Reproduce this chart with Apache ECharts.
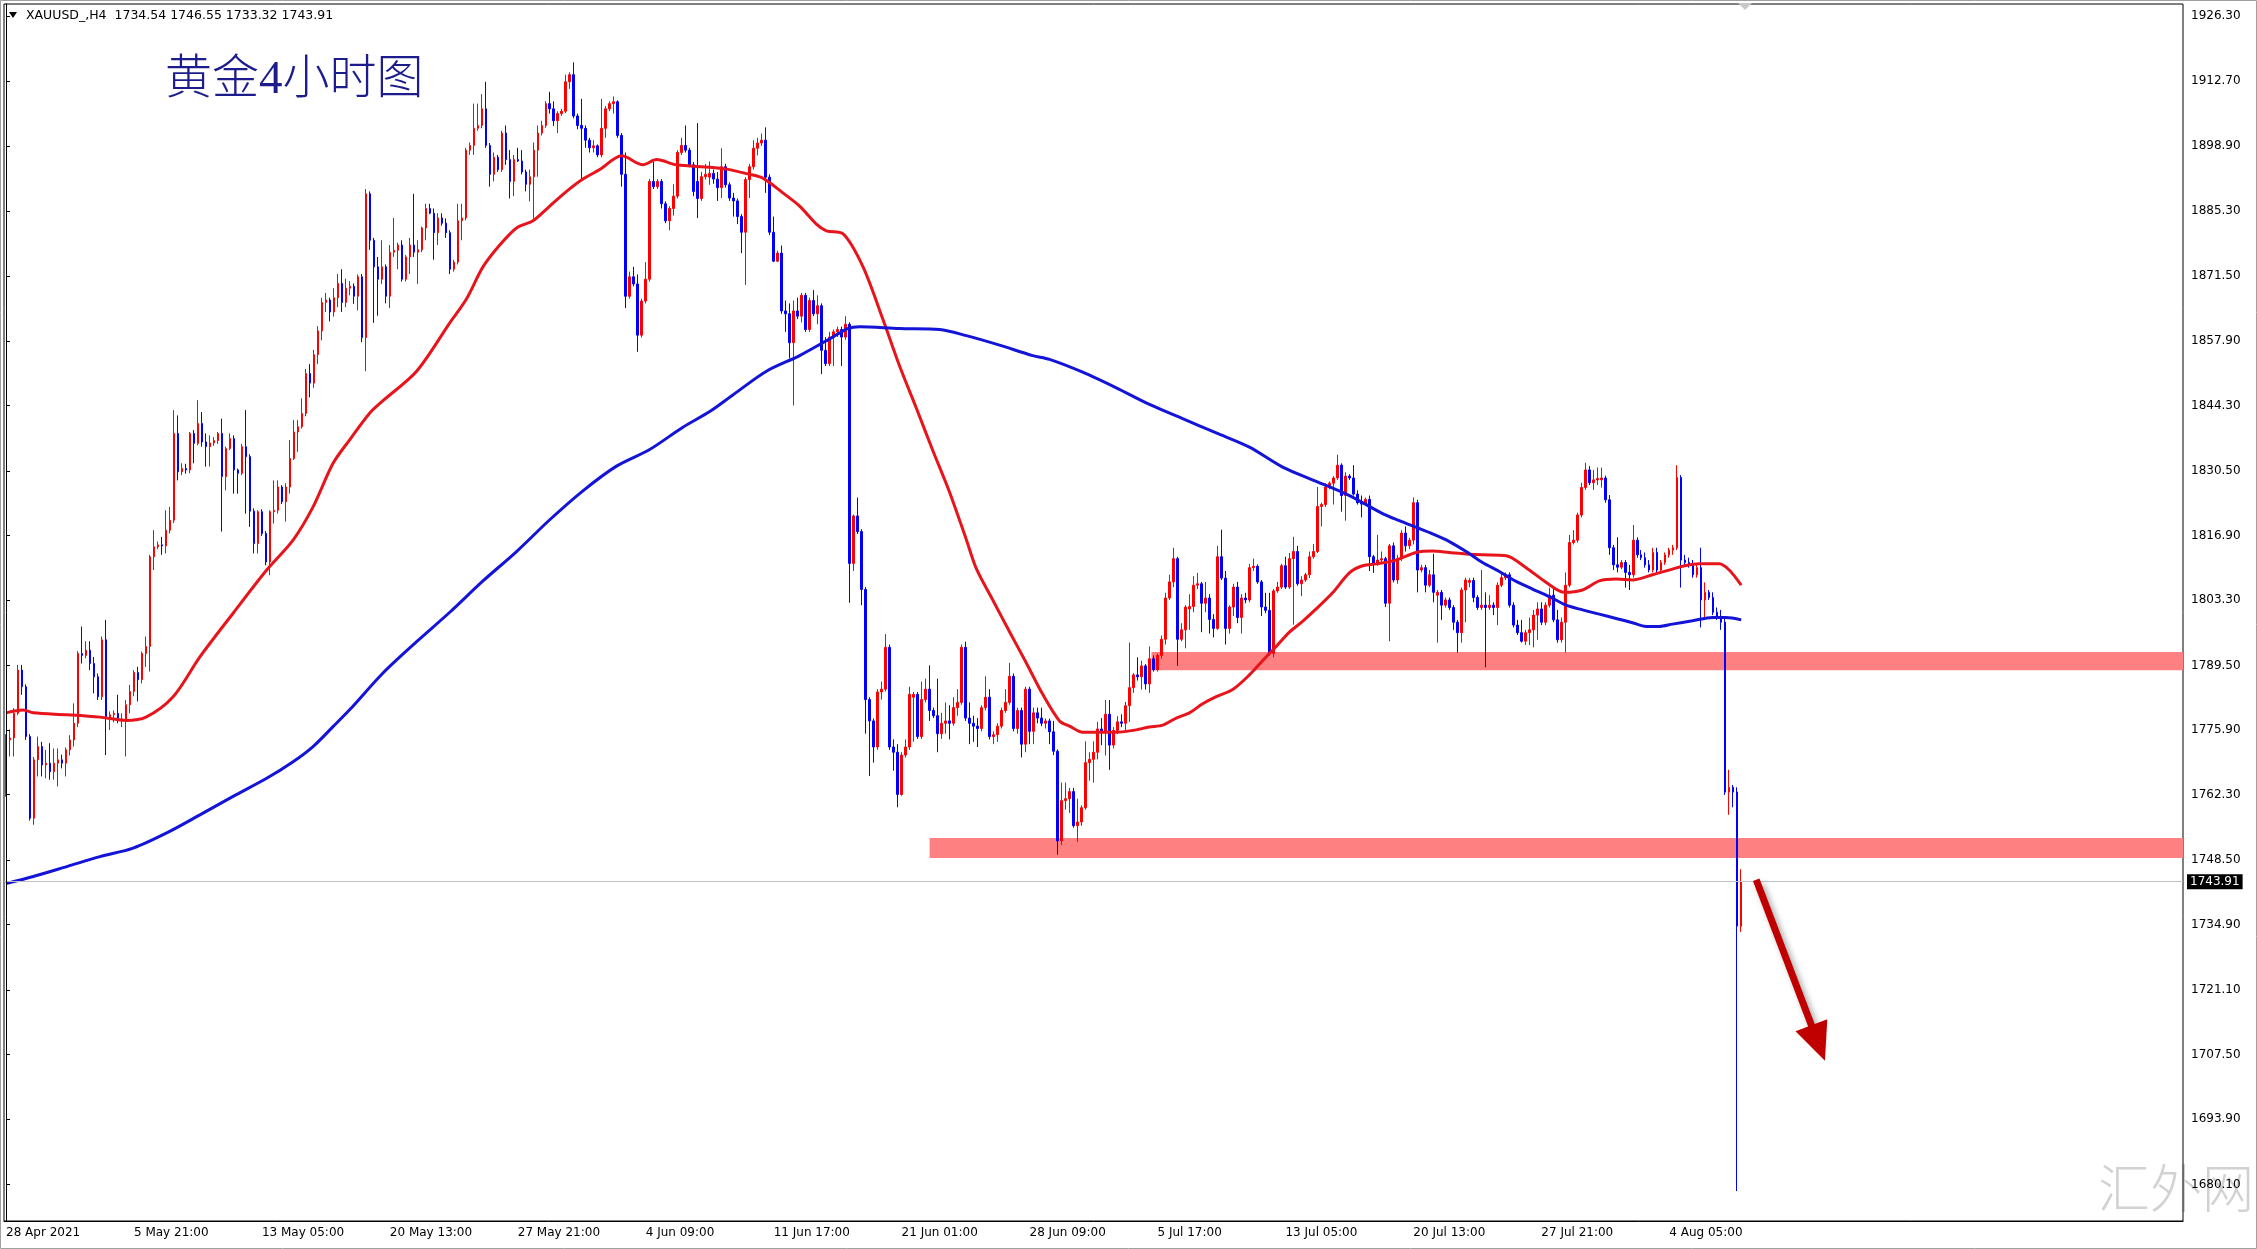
<!DOCTYPE html>
<html>
<head>
<meta charset="utf-8">
<script src="https://cdn.jsdelivr.net/npm/echarts/dist/echarts.min.js"></script>
<style>
  html, body { margin: 0; padding: 0; background: #fff; }
  #chart { width: 2257px; height: 1249px; }
</style>
</head>
<body>
<div id="chart"></div>
<script>
// XAUUSD H4, one row per bar: [open, high, low, close]
const candles = [
  [1762.5,1775.0,1761.8,1773.8],[1773.8,1776.0,1770.3,1774.2],[1774.2,1780.5,1770.3,1779.4],[1779.4,1789.6,1779.0,1788.5],[1788.5,1789.6,1783.3,1785.0],
  [1785.0,1785.5,1773.8,1774.5],[1774.5,1775.0,1756.8,1757.3],[1757.3,1770.2,1755.9,1769.6],[1769.6,1774.5,1766.1,1772.4],[1772.4,1773.4,1766.1,1768.5],
  [1768.5,1771.7,1765.7,1768.9],[1768.9,1773.1,1765.4,1767.1],[1767.1,1772.0,1765.4,1768.9],[1768.9,1772.0,1764.0,1769.6],[1769.6,1770.7,1767.8,1768.9],
  [1768.9,1772.2,1766.1,1771.7],[1771.7,1774.8,1770.5,1773.8],[1773.8,1781.5,1772.4,1777.3],[1777.3,1792.5,1776.5,1792.0],[1792.0,1797.7,1789.9,1791.6],
  [1791.6,1794.6,1791.0,1792.7],[1792.7,1794.6,1788.5,1789.9],[1789.9,1791.3,1783.6,1787.1],[1787.1,1787.8,1782.2,1782.9],[1782.9,1795.6,1782.2,1794.9],
  [1794.9,1799.1,1770.6,1778.7],[1778.7,1779.8,1775.9,1779.1],[1779.1,1780.0,1777.5,1779.4],[1779.4,1783.3,1777.3,1778.0],[1778.0,1779.4,1776.5,1778.2],
  [1778.2,1782.2,1770.3,1781.2],[1781.2,1785.4,1779.4,1784.0],[1784.0,1788.5,1783.0,1788.0],[1788.0,1789.2,1781.9,1786.5],[1786.5,1792.4,1785.7,1792.0],
  [1792.0,1795.6,1789.2,1793.5],[1793.5,1812.8,1788.2,1812.4],[1812.4,1818.0,1809.6,1814.5],[1814.5,1815.6,1814.0,1814.9],[1814.9,1816.6,1812.8,1814.7],
  [1814.7,1822.2,1813.1,1818.0],[1818.0,1822.9,1817.3,1820.1],[1820.1,1843.3,1819.5,1838.4],[1838.4,1842.2,1828.5,1830.3],[1830.3,1832.1,1829.6,1831.0],
  [1831.0,1832.0,1829.9,1830.7],[1830.7,1838.7,1830.0,1838.4],[1838.4,1839.1,1832.1,1836.3],[1836.3,1845.4,1835.9,1840.5],[1840.5,1842.9,1835.6,1836.6],
  [1836.6,1838.4,1831.4,1835.6],[1835.6,1838.0,1831.4,1836.4],[1836.4,1837.6,1835.8,1836.9],[1836.9,1838.7,1836.2,1838.4],[1838.4,1841.5,1817.7,1829.3],
  [1829.3,1835.6,1826.4,1835.2],[1835.2,1838.4,1834.9,1837.3],[1837.3,1838.0,1825.7,1830.7],[1830.7,1831.0,1825.7,1830.0],[1830.0,1836.2,1829.6,1835.6],
  [1835.6,1843.3,1821.5,1833.5],[1833.5,1834.0,1818.7,1822.0],[1822.0,1822.6,1813.1,1815.2],[1815.2,1822.2,1813.1,1821.9],[1821.9,1822.4,1816.8,1817.3],
  [1817.3,1817.8,1810.6,1811.3],[1811.3,1822.2,1808.5,1821.9],[1821.9,1828.5,1819.4,1822.2],[1822.2,1828.5,1821.5,1827.1],[1827.1,1827.5,1823.5,1824.0],
  [1824.0,1827.9,1819.8,1827.1],[1827.1,1837.0,1825.7,1833.1],[1833.1,1841.2,1832.8,1838.7],[1838.7,1841.2,1834.5,1839.8],[1839.8,1845.8,1839.4,1842.6],
  [1842.6,1852.0,1842.0,1851.0],[1851.0,1853.0,1846.0,1849.0],[1849.0,1856.0,1848.0,1855.0],[1855.0,1861.0,1853.0,1860.0],[1860.0,1867.0,1858.0,1866.0],
  [1866.0,1868.0,1864.0,1866.5],[1866.5,1867.0,1862.0,1864.0],[1864.0,1869.0,1863.0,1867.0],[1867.0,1872.0,1865.0,1870.0],[1870.0,1873.0,1864.0,1866.0],
  [1866.0,1871.0,1865.0,1869.0],[1869.0,1870.5,1867.5,1869.4],[1869.4,1870.0,1865.7,1867.3],[1867.3,1871.9,1864.3,1871.4],[1871.4,1872.0,1857.6,1858.6],
  [1858.6,1889.9,1851.5,1888.9],[1888.9,1889.4,1877.1,1879.1],[1879.1,1879.6,1861.7,1873.5],[1873.5,1875.6,1863.2,1870.9],[1870.9,1879.1,1869.9,1873.5],
  [1873.5,1874.0,1865.8,1867.3],[1867.3,1878.1,1864.8,1876.6],[1876.6,1883.8,1875.6,1877.0],[1877.0,1878.6,1873.0,1878.1],[1878.1,1879.1,1870.4,1870.9],
  [1870.9,1876.0,1870.4,1875.6],[1875.6,1879.6,1872.0,1878.1],[1878.1,1888.9,1875.6,1876.6],[1876.6,1879.1,1869.9,1877.1],[1877.1,1882.0,1876.6,1881.7],
  [1881.7,1886.8,1879.1,1885.8],[1885.8,1886.8,1884.6,1884.8],[1884.8,1885.8,1875.0,1880.7],[1880.7,1884.8,1878.1,1883.8],[1883.8,1884.8,1882.2,1882.7],
  [1882.7,1883.7,1879.6,1880.7],[1880.7,1881.2,1872.0,1873.0],[1873.0,1875.0,1872.5,1874.5],[1874.5,1886.8,1874.0,1883.2],[1883.2,1886.8,1879.1,1883.8],
  [1883.8,1898.6,1883.3,1898.1],[1898.1,1899.7,1897.1,1899.1],[1899.1,1907.9,1897.1,1902.7],[1902.7,1907.9,1902.2,1903.3],[1903.3,1909.9,1902.7,1906.8],
  [1906.8,1912.5,1898.6,1899.1],[1899.1,1899.6,1890.4,1893.0],[1893.0,1897.6,1891.5,1896.6],[1896.6,1897.1,1893.5,1894.0],[1894.0,1902.2,1893.5,1901.7],
  [1901.7,1903.3,1895.0,1896.1],[1896.1,1898.1,1887.9,1891.5],[1891.5,1897.1,1888.4,1896.1],[1896.1,1898.6,1895.6,1895.8],[1895.8,1898.1,1893.0,1893.5],
  [1893.5,1894.0,1889.4,1890.9],[1890.9,1894.0,1887.3,1892.5],[1892.5,1899.7,1883.2,1898.1],[1898.1,1903.3,1892.5,1901.7],[1901.7,1904.3,1901.2,1903.3],
  [1903.3,1908.4,1902.8,1907.9],[1907.9,1910.4,1905.8,1906.8],[1906.8,1908.4,1903.2,1904.3],[1904.3,1906.3,1901.7,1905.8],[1905.8,1906.8,1905.3,1906.3],
  [1906.3,1914.0,1905.9,1912.5],[1912.5,1914.5,1911.0,1914.0],[1914.0,1916.6,1904.8,1905.3],[1905.3,1905.8,1902.5,1903.3],[1903.3,1908.9,1892.0,1902.7],
  [1902.7,1903.3,1898.6,1900.2],[1900.2,1900.7,1897.6,1898.6],[1898.6,1900.2,1897.6,1899.0],[1899.0,1899.3,1896.6,1897.1],[1897.1,1908.9,1896.6,1902.7],
  [1902.7,1907.4,1900.7,1906.8],[1906.8,1908.4,1906.3,1907.9],[1907.9,1909.4,1905.8,1908.3],[1908.3,1908.6,1900.7,1901.2],[1901.2,1901.7,1890.4,1893.0],
  [1893.0,1897.6,1864.8,1867.3],[1867.3,1872.5,1866.8,1871.4],[1871.4,1873.5,1869.4,1869.9],[1869.9,1871.9,1855.6,1859.1],[1859.1,1866.8,1858.6,1866.3],
  [1866.3,1874.5,1865.8,1870.9],[1870.9,1892.0,1870.4,1891.5],[1891.5,1895.6,1889.9,1890.4],[1890.4,1892.0,1889.9,1891.5],[1891.5,1892.0,1885.8,1886.8],
  [1886.8,1887.3,1882.7,1883.2],[1883.2,1886.3,1881.2,1885.8],[1885.8,1890.9,1884.3,1888.4],[1888.4,1898.1,1887.9,1897.6],[1897.6,1900.7,1897.1,1899.1],
  [1899.1,1903.3,1897.6,1898.1],[1898.1,1898.6,1894.5,1895.0],[1895.0,1895.6,1888.4,1889.4],[1891.5,1903.8,1883.8,1887.9],[1887.9,1893.5,1887.4,1892.5],
  [1892.5,1895.2,1891.9,1893.0],[1892.4,1895.7,1890.8,1893.2],[1893.2,1894.0,1891.0,1892.0],[1892.0,1893.5,1887.4,1890.2],[1890.2,1898.5,1888.0,1894.6],
  [1894.6,1895.2,1890.2,1890.8],[1890.8,1891.3,1887.4,1888.0],[1888.0,1889.1,1884.1,1887.4],[1887.4,1887.9,1882.5,1884.1],[1884.1,1884.6,1876.4,1880.8],
  [1880.8,1892.4,1869.7,1891.9],[1891.9,1895.2,1888.0,1894.6],[1894.6,1900.2,1894.0,1898.5],[1898.5,1900.7,1897.0,1899.6],[1899.6,1901.6,1899.0,1900.2],
  [1900.2,1902.9,1889.1,1892.4],[1892.4,1893.0,1880.2,1880.8],[1880.8,1884.1,1874.5,1874.7],[1874.7,1876.9,1874.5,1876.4],[1876.4,1878.0,1863.6,1864.2],
  [1864.2,1866.4,1859.8,1863.6],[1863.6,1865.8,1854.2,1857.5],[1857.5,1866.4,1844.3,1864.2],[1864.2,1867.0,1862.5,1863.1],[1863.1,1868.0,1861.8,1867.5],
  [1867.5,1868.0,1859.8,1860.3],[1860.3,1867.0,1859.8,1866.4],[1866.4,1868.6,1863.1,1863.6],[1863.6,1867.5,1861.4,1865.3],[1865.3,1865.8,1850.9,1855.9],
  [1855.9,1858.7,1852.6,1853.1],[1853.1,1859.8,1852.6,1858.7],[1858.7,1860.3,1852.6,1859.8],[1859.8,1860.9,1858.7,1860.3],[1860.3,1860.9,1852.6,1858.7],
  [1858.7,1863.1,1858.1,1861.4],[1861.4,1861.8,1802.7,1811.0],[1811.0,1821.3,1809.4,1821.0],[1821.0,1824.9,1817.2,1817.7],[1817.7,1818.2,1802.2,1805.5],
  [1805.5,1806.0,1775.1,1782.3],[1782.3,1782.8,1766.2,1777.8],[1777.8,1778.3,1769.0,1772.3],[1772.3,1784.5,1771.7,1783.9],[1783.9,1786.1,1782.3,1784.5],
  [1784.5,1796.1,1784.0,1793.3],[1793.3,1793.9,1771.7,1772.3],[1772.3,1773.9,1767.3,1771.2],[1771.2,1772.9,1759.6,1762.3],[1762.3,1771.2,1762.0,1770.6],
  [1770.6,1773.9,1770.1,1772.3],[1772.3,1785.0,1771.7,1783.4],[1782.8,1783.9,1773.4,1783.4],[1783.4,1783.9,1774.0,1774.5],[1774.5,1786.1,1774.0,1782.3],
  [1782.3,1786.7,1781.7,1784.5],[1784.5,1789.5,1777.8,1780.0],[1780.0,1780.6,1778.4,1778.9],[1778.9,1786.7,1771.2,1775.1],[1775.1,1779.5,1774.0,1777.3],
  [1777.3,1781.7,1775.1,1777.8],[1777.8,1781.1,1773.9,1777.3],[1777.3,1782.8,1776.8,1780.6],[1780.6,1784.5,1778.9,1781.7],[1781.7,1793.9,1781.2,1793.3],
  [1793.3,1794.5,1777.8,1778.4],[1778.4,1781.7,1772.9,1777.3],[1777.3,1778.9,1773.4,1776.7],[1776.7,1778.4,1772.3,1776.2],[1776.2,1781.1,1775.6,1780.6],
  [1780.6,1787.2,1780.0,1782.8],[1782.8,1784.5,1773.9,1774.5],[1774.5,1775.6,1772.9,1774.9],[1774.9,1777.3,1773.4,1776.7],[1776.7,1780.6,1776.2,1780.0],
  [1780.0,1784.5,1779.5,1781.7],[1781.7,1790.0,1781.2,1787.2],[1787.2,1787.8,1775.6,1776.2],[1776.2,1780.6,1775.1,1780.0],[1780.0,1780.6,1770.1,1772.9],
  [1772.9,1785.0,1771.2,1784.5],[1784.5,1785.0,1772.9,1775.6],[1775.6,1780.6,1772.9,1779.5],[1779.5,1780.6,1777.3,1778.4],[1778.4,1780.6,1776.7,1777.3],
  [1777.3,1778.3,1776.2,1777.8],[1777.8,1778.3,1772.9,1775.5],[1775.5,1777.8,1770.6,1771.4],[1771.4,1771.8,1749.6,1752.5],[1752.5,1764.8,1751.6,1761.0],
  [1761.0,1764.8,1759.1,1761.4],[1761.4,1763.7,1758.4,1762.9],[1762.9,1763.7,1755.3,1755.7],[1755.7,1761.4,1752.3,1756.5],[1756.5,1760.0,1755.7,1759.5],
  [1759.5,1773.5,1759.1,1769.0],[1769.0,1771.2,1765.2,1769.7],[1769.7,1773.5,1764.8,1771.2],[1771.2,1777.6,1769.7,1776.1],[1776.1,1778.4,1772.7,1775.4],
  [1775.4,1782.2,1770.5,1779.2],[1779.2,1782.2,1767.5,1772.7],[1772.7,1776.5,1772.0,1775.8],[1775.8,1778.8,1775.0,1777.6],[1777.6,1779.2,1776.5,1777.3],
  [1777.3,1781.8,1775.8,1781.0],[1781.0,1794.3,1777.6,1784.8],[1784.8,1787.9,1783.7,1787.5],[1787.5,1791.2,1786.3,1787.1],[1787.1,1790.5,1784.4,1789.4],
  [1789.4,1789.8,1784.4,1785.6],[1785.6,1793.5,1783.7,1790.9],[1790.9,1791.6,1788.2,1788.6],[1788.6,1792.0,1788.2,1791.6],[1791.6,1795.8,1790.9,1795.0],
  [1795.0,1804.8,1793.9,1803.7],[1803.7,1808.6,1803.3,1807.1],[1807.1,1814.3,1806.0,1812.0],[1812.0,1812.4,1789.4,1795.0],[1795.0,1798.4,1794.6,1797.0],
  [1797.0,1802.2,1793.1,1801.8],[1801.4,1804.5,1797.0,1801.9],[1801.9,1808.3,1800.7,1806.4],[1806.4,1809.0,1805.6,1806.7],[1806.7,1807.1,1796.5,1802.6],
  [1802.6,1807.1,1800.7,1803.7],[1803.7,1804.5,1796.2,1799.2],[1799.2,1800.3,1795.4,1797.3],[1797.3,1814.7,1797.0,1812.4],[1812.4,1818.1,1807.5,1807.9],
  [1807.9,1809.4,1793.9,1797.3],[1797.3,1802.2,1796.2,1801.8],[1801.8,1806.7,1799.9,1806.0],[1806.0,1807.1,1798.4,1799.6],[1799.6,1804.5,1796.2,1803.7],
  [1803.7,1804.8,1802.6,1803.3],[1803.3,1810.9,1802.8,1810.1],[1810.1,1812.0,1809.4,1810.4],[1810.4,1810.8,1806.7,1807.1],[1807.1,1807.5,1799.9,1801.8],
  [1801.8,1804.8,1800.5,1801.1],[1801.1,1804.8,1791.6,1792.0],[1792.0,1805.6,1791.2,1805.2],[1805.2,1807.1,1804.8,1806.0],[1806.0,1810.9,1805.6,1810.5],
  [1810.5,1812.4,1805.6,1806.0],[1806.0,1813.2,1805.6,1812.0],[1812.0,1816.6,1798.1,1813.5],[1813.5,1814.7,1806.3,1806.7],[1806.7,1808.3,1804.1,1807.5],
  [1807.5,1809.0,1807.1,1808.6],[1808.6,1813.5,1807.9,1812.4],[1812.4,1815.1,1812.0,1813.5],[1813.5,1827.1,1813.2,1823.0],[1823.0,1823.8,1818.8,1823.4],
  [1823.4,1827.9,1822.9,1827.1],[1827.1,1828.3,1826.6,1827.9],[1827.9,1829.4,1823.4,1829.0],[1829.0,1833.9,1828.6,1831.7],[1831.7,1832.1,1821.9,1825.3],
  [1825.3,1830.2,1820.0,1829.4],[1829.4,1829.8,1828.6,1829.0],[1829.0,1831.7,1825.3,1825.6],[1825.6,1826.4,1823.4,1823.8],[1823.8,1825.3,1820.7,1823.5],
  [1823.5,1824.9,1823.4,1824.5],[1824.5,1825.3,1809.4,1812.4],[1812.4,1812.8,1809.0,1810.9],[1810.9,1817.0,1810.5,1811.7],[1811.7,1813.5,1811.3,1812.0],
  [1812.0,1812.4,1801.8,1802.6],[1802.6,1815.1,1794.6,1814.7],[1814.7,1815.4,1807.0,1807.5],[1807.5,1812.8,1806.7,1812.0],[1812.0,1818.0,1811.5,1817.4],
  [1817.4,1818.8,1813.5,1814.7],[1814.7,1816.4,1814.0,1815.9],[1815.9,1824.9,1815.0,1823.8],[1823.8,1824.4,1804.9,1809.6],[1809.6,1810.7,1809.1,1810.1],
  [1810.1,1810.7,1804.9,1806.4],[1806.4,1809.6,1806.0,1808.6],[1808.6,1813.0,1802.8,1804.9],[1804.3,1805.4,1794.3,1804.9],[1804.9,1805.4,1799.1,1802.2],
  [1802.2,1803.8,1801.7,1803.3],[1803.3,1803.8,1801.2,1801.7],[1801.7,1802.2,1797.0,1798.6],[1798.6,1799.1,1792.2,1796.4],[1796.4,1805.9,1794.3,1805.4],
  [1805.4,1808.0,1798.6,1807.5],[1807.0,1807.9,1806.0,1807.4],[1807.4,1808.0,1802.8,1803.8],[1803.8,1804.3,1801.2,1801.7],[1801.7,1809.6,1801.2,1802.2],
  [1802.2,1804.9,1789.1,1801.7],[1801.7,1804.3,1801.2,1802.2],[1802.2,1802.8,1800.1,1801.7],[1801.7,1807.0,1798.0,1806.4],[1806.4,1809.1,1806.0,1808.0],
  [1808.0,1809.1,1807.5,1808.6],[1808.6,1809.1,1801.7,1802.2],[1802.2,1802.8,1797.5,1798.0],[1798.0,1799.1,1795.9,1796.4],[1796.4,1799.1,1794.3,1794.6],
  [1794.6,1797.0,1793.8,1796.4],[1796.4,1799.6,1793.8,1797.0],[1797.0,1801.2,1793.3,1800.1],[1800.1,1802.8,1794.9,1801.4],[1801.4,1802.8,1798.0,1798.6],
  [1798.6,1802.8,1798.0,1802.2],[1802.2,1805.9,1801.7,1804.3],[1804.3,1805.9,1798.6,1799.1],[1799.1,1801.2,1794.3,1794.9],[1794.9,1799.6,1794.3,1798.6],
  [1798.6,1809.1,1792.2,1806.4],[1806.4,1817.0,1806.0,1815.4],[1815.4,1818.0,1815.0,1815.9],[1815.9,1821.7,1815.4,1821.2],[1821.2,1828.0,1820.7,1827.0],
  [1827.0,1832.2,1826.5,1830.7],[1830.7,1831.5,1827.5,1828.0],[1828.0,1830.7,1826.5,1828.6],[1828.6,1831.2,1827.5,1828.9],[1828.6,1831.2,1827.0,1829.0],
  [1829.0,1829.5,1823.8,1824.4],[1824.4,1825.4,1812.8,1814.3],[1814.3,1814.9,1809.6,1810.7],[1810.7,1816.5,1809.1,1810.2],[1810.2,1811.7,1809.8,1811.2],
  [1811.2,1811.7,1805.9,1809.1],[1809.1,1810.7,1805.4,1808.6],[1808.6,1819.1,1808.0,1815.9],[1815.9,1816.5,1812.2,1812.8],[1812.8,1813.8,1811.7,1812.2],
  [1812.2,1813.3,1810.1,1810.7],[1810.7,1811.7,1809.1,1809.6],[1809.6,1814.3,1809.1,1813.3],[1813.3,1814.3,1809.1,1809.6],[1809.6,1811.7,1809.1,1811.2],
  [1811.2,1813.3,1810.7,1812.8],[1812.8,1814.3,1812.2,1813.8],[1813.8,1814.9,1812.8,1814.3],[1814.3,1831.7,1813.8,1829.1],[1829.1,1829.6,1805.9,1811.7],
  [1811.7,1812.8,1810.7,1811.2],[1811.2,1812.2,1810.1,1810.7],[1810.7,1811.7,1808.0,1808.6],[1808.6,1810.7,1808.0,1810.1],[1810.1,1814.3,1797.5,1803.3],
  [1803.3,1807.0,1799.6,1804.9],[1804.9,1805.4,1803.3,1803.8],[1803.8,1804.9,1800.1,1800.7],[1800.7,1801.7,1799.1,1799.6],[1799.6,1801.2,1797.0,1798.6],
  [1798.6,1799.6,1762.2,1762.8],[1762.8,1767.5,1758.0,1763.8],[1763.8,1764.3,1759.6,1762.8],[1762.8,1763.8,1678.7,1734.54],[1734.54,1746.55,1733.32,1743.91]
];

// red moving average as [bar, price]
const maRed = [
  [0,1779.5],[4.3,1780.1],[6.8,1779.5],[15.2,1779.1],[23.5,1778.6],[30,1777.9],[35,1778.6],[41.8,1782.9],
  [48.5,1791.3],[56.8,1800.5],[65.2,1809.6],[71.8,1815.9],[76.8,1822.9],[81.8,1832.1],[86,1837.1],[91,1842.7],
  [94.3,1845.3],[102.7,1851.5],[111,1861.7],[115.2,1866.8],[119.3,1873.5],[123.5,1878.1],[127.7,1881.7],[131.8,1883.2],
  [136,1886.3],[140.2,1889.4],[144.3,1892.0],[148.5,1894.0],[154,1896.9],[159.3,1895.0],[162.7,1896.1],[167.7,1895.0],
  [176,1894.5],[180.2,1894.1],[186,1893.0],[189.3,1892.2],[194.3,1889.1],[198.5,1886.3],[202.7,1882.5],[205.2,1881.1],
  [209.3,1880.5],[214.3,1873.6],[219.3,1862.5],[223.5,1852.6],[227.7,1843.7],[231.8,1834.8],[236,1826.0],[240.2,1816.0],
  [242.7,1809.9],[246.8,1803.3],[251,1796.6],[255.2,1790.0],[259.3,1783.4],[263.5,1777.8],[266,1776.7],[269.3,1775.4],
  [273.5,1775.4],[277.7,1775.4],[281.8,1775.8],[286,1776.5],[289.3,1776.9],[292.7,1778.4],[296,1779.5],[299.3,1781.4],
  [302.7,1782.9],[306.8,1784.4],[311,1787.5],[314.3,1790.5],[317.7,1793.5],[321,1796.5],[324.3,1798.8],[327.7,1801.4],
  [331.8,1804.8],[336,1809.0],[339.3,1810.5],[342.7,1810.9],[347.7,1811.7],[352.7,1813.3],[356.8,1813.6],[361,1813.3],
  [365.2,1813.0],[369.3,1812.8],[375.2,1812.6],[380.2,1810.1],[385.2,1807.0],[389.8,1804.9],[394.3,1805.4],[398.5,1807.3],
  [402.7,1807.7],[406.8,1807.5],[411.8,1808.6],[416.8,1809.8],[419.3,1810.4],[423.5,1810.9],[428.5,1810.9],[431,1809.6],
  [434,1806.4]
];

// blue moving average
const maBlue = [
  [0,1743.5],[6.8,1745.0],[15.2,1747.1],[23.5,1749.2],[31.8,1751.0],[40.2,1754.2],[48.5,1758.0],[56.8,1761.9],
  [65.2,1765.7],[71.8,1769.2],[76.8,1772.4],[81.8,1776.6],[86,1780.2],[94.3,1787.9],[102.7,1794.5],[111,1800.7],
  [119.3,1807.3],[127.7,1813.5],[136,1820.2],[144.3,1826.3],[152.7,1831.5],[161,1835.0],[169.3,1839.7],[176,1843.0],
  [181.8,1846.5],[190.2,1851.5],[198.5,1854.8],[206.8,1858.7],[210.5,1860.5],[213.5,1860.9],[223.5,1860.5],[233.5,1860.3],
  [240.2,1859.0],[248.5,1857.0],[256.8,1854.8],[261,1854.0],[269.3,1851.3],[277.7,1848.0],[286,1844.5],[294.3,1841.5],
  [302.7,1838.5],[311,1835.5],[319.3,1831.3],[327.7,1828.3],[336,1825.3],[344.3,1821.5],[348.5,1820.0],[352.7,1818.6],
  [356.8,1817.2],[361,1815.6],[365.2,1813.5],[369.3,1811.2],[373.5,1809.3],[377.7,1807.2],[381.8,1805.6],[386,1804.0],
  [390.2,1802.2],[394.3,1801.2],[398.5,1800.3],[402.7,1799.4],[406.8,1798.5],[410.2,1797.7],[413.5,1797.7],[416.8,1798.2],
  [421.8,1798.9],[426.8,1799.6],[430.2,1799.6],[434,1799.1]
];

const xTickLabels = ['28 Apr 2021', '5 May 21:00', '13 May 05:00', '20 May 13:00', '27 May 21:00', '4 Jun 09:00',
  '11 Jun 17:00', '21 Jun 01:00', '28 Jun 09:00', '5 Jul 17:00', '13 Jul 05:00', '20 Jul 13:00', '27 Jul 21:00', '4 Aug 05:00'];
const barsPerLabel = 32;
const yTickValues = [1680.1, 1693.9, 1707.5, 1721.1, 1734.9, 1748.5, 1762.3, 1775.9, 1789.5, 1803.3,
  1816.9, 1830.5, 1844.3, 1857.9, 1871.5, 1885.3, 1898.9, 1912.7, 1926.3];

// support zones: [first bar, low, high]
const zones = [[231, 1748.9, 1753.1], [286.5, 1788.5, 1792.3]];
// drawn arrow: from [bar, price] to [bar, price]
const arrowFrom = [437.75, 1744.3];
const arrowTo = [453.25, 1709.9];

const slotCount = 545;
const yMin = 1672.4, yMax = 1928.9;
const font = 'DejaVu Sans';

const cats = [];
for (let i = 0; i < slotCount; i++) cats.push(String(i));
const showTick = (idx) => idx % barsPerLabel === 0 && idx / barsPerLabel < xTickLabels.length;

const last = candles[candles.length - 1];
const lastPrice = last[3];

let chart = echarts.init(document.getElementById('chart'), null, { renderer: 'canvas' });

chart.setOption({
  animation: false,
  backgroundColor: '#fff',
  grid: { left: 4, right: 74, top: 4, bottom: 28, show: true, borderColor: '#000', borderWidth: 1 },
  xAxis: [
    {
      type: 'category',
      data: cats,
      boundaryGap: true,
      axisLine: { lineStyle: { color: '#000', width: 1 } },
      axisTick: { alignWithLabel: true, interval: showTick, length: 4, lineStyle: { color: '#000' } },
      axisLabel: {
        interval: showTick,
        align: 'left',
        margin: 6,
        color: '#000',
        fontSize: 12,
        fontFamily: font,
        formatter: (v, idx) => xTickLabels[idx / barsPerLabel] || ''
      },
      splitLine: { show: false }
    },
    { type: 'value', min: -0.5, max: slotCount - 0.5, show: false }
  ],
  yAxis: {
    type: 'value',
    position: 'right',
    min: yMin,
    max: yMax,
    z: 5,
    axisLine: { show: true, lineStyle: { color: '#000' } },
    axisTick: { show: true, customValues: yTickValues, length: 4, lineStyle: { color: '#000' } },
    axisLabel: {
      customValues: yTickValues,
      formatter: (v) => v.toFixed(2),
      color: '#000',
      fontSize: 12,
      fontFamily: font,
      margin: 8
    },
    splitLine: { show: false }
  },
  series: [
    {
      // pink zones behind the bars
      type: 'line',
      xAxisIndex: 1,
      data: [],
      z: 1,
      silent: true,
      markArea: {
        silent: true,
        itemStyle: { color: '#ff8080' },
        data: zones.map(z => [{ xAxis: z[0], yAxis: z[2] }, { xAxis: slotCount - 0.5, yAxis: z[1] }])
      }
    },
    {
      type: 'candlestick',
      xAxisIndex: 0,
      z: 3,
      barWidth: 2,
      data: candles.map(c => [c[0], c[3], c[2], c[1]]),
      itemStyle: {
        color: '#ff0000',
        color0: '#0000ff',
        borderColor: '#ff0000',
        borderColor0: '#0000ff',
        borderWidth: 1
      },
      markLine: {
        silent: true,
        symbol: 'none',
        lineStyle: { color: '#c0c0c0', width: 1, type: 'solid' },
        label: {
          position: 'end',
          distance: 4,
          formatter: lastPrice.toFixed(2),
          backgroundColor: '#000',
          color: '#fff',
          fontSize: 12,
          fontFamily: font,
          padding: [2, 3, 1, 3]
        },
        data: [{ yAxis: lastPrice }]
      }
    },
    {
      type: 'line',
      xAxisIndex: 1,
      data: maRed,
      smooth: 0.3,
      showSymbol: false,
      z: 4,
      lineStyle: { color: '#e8141c', width: 3 }
    },
    {
      type: 'line',
      xAxisIndex: 1,
      data: maBlue,
      smooth: 0.3,
      showSymbol: false,
      z: 4,
      lineStyle: { color: '#1414d8', width: 3 }
    },
    {
      // hand drawn arrow
      type: 'line',
      xAxisIndex: 1,
      data: [],
      z: 6,
      markLine: {
        silent: true,
        symbol: ['none', 'triangle'],
        symbolSize: [34, 38],
        label: { show: false },
        lineStyle: {
          color: '#c00000',
          width: 7,
          type: 'solid',
          shadowColor: 'rgba(0,0,0,0.35)',
          shadowBlur: 6,
          shadowOffsetX: 4,
          shadowOffsetY: 5
        },
        data: [[{ coord: arrowFrom }, { coord: arrowTo }]]
      }
    }
  ],
  graphic: [
    { type: 'rect', silent: true, shape: { x: 0.5, y: 0.5, width: 2256, height: 1248 }, style: { fill: null, stroke: '#a0a0a0', lineWidth: 1 } },
    { type: 'polygon', silent: true, shape: { points: [[9, 12], [17, 12], [13, 18]] }, style: { fill: '#000' } },
    {
      type: 'text', left: 26, top: 9, silent: true,
      style: { text: 'XAUUSD_,H4  ' + last.map(v => v.toFixed(2)).join(' '), font: '12.5px ' + font, fill: '#000' }
    },
    {
      type: 'text', left: 165, top: 57, silent: true,
      style: { text: '黄金4小时图', font: "300 47px 'Liberation Serif', 'Noto Sans CJK SC'", fill: '#1c1c8c' }
    },
    { type: 'polygon', silent: true, shape: { points: [[1738, 3], [1752, 3], [1745, 10]] }, style: { fill: '#c8c8c8' } },
    {
      type: 'text', left: 2098, top: 1162, silent: true, z: -10,
      style: { text: '汇外网', font: "300 52px 'Noto Sans CJK SC'", fill: '#d2d2d2' }
    }
  ]
});
</script>
</body>
</html>
